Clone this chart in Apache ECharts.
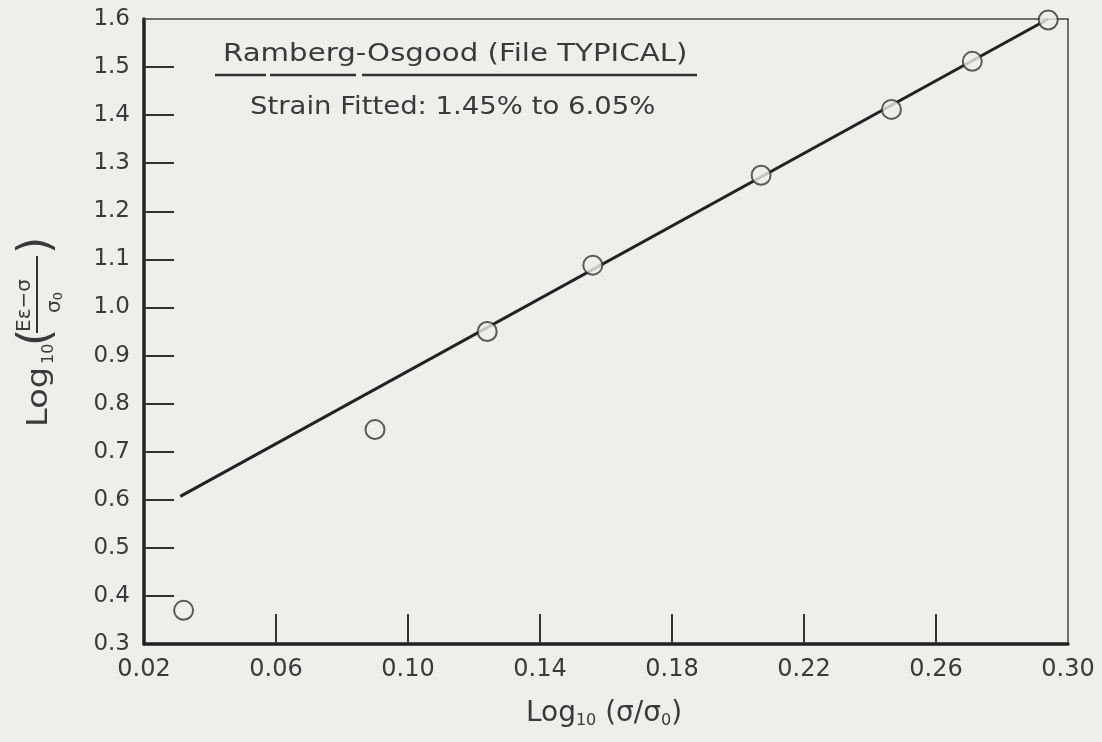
<!DOCTYPE html>
<html>
<head>
<meta charset="utf-8">
<title>Ramberg-Osgood fit</title>
<script src="https://cdn.jsdelivr.net/npm/echarts@6/dist/echarts.min.js"></script>
<style>
  html, body { margin: 0; padding: 0; background: #eeeeeb; }
  #chart { width: 1102px; height: 742px; }
</style>
</head>
<body>
<div id="chart"></div>
<script>
// measured points, log10(sigma/sigma0) vs log10((E eps - sigma)/sigma0)
const xPoints = [0.032, 0.090, 0.124, 0.156, 0.207, 0.2465, 0.271, 0.294];
const yPoints = [0.37, 0.746, 0.95, 1.088, 1.275, 1.412, 1.512, 1.598];

// fitted straight line end points
const fitX = [0.031, 0.294];
const fitY = [0.607, 1.60];

const xTicks = { min: 0.02, max: 0.30, step: 0.04 };
const yTicks = { min: 0.3, max: 1.6, step: 0.1 };
// inner tick marks (none drawn on the frame corners)
const xTickMarks = [0.06, 0.10, 0.14, 0.18, 0.22, 0.26];
const yTickMarks = [0.4, 0.5, 0.6, 0.7, 0.8, 0.9, 1.0, 1.1, 1.2, 1.3, 1.4, 1.5];

const ink = '#3a3a3a';
const font = 'DejaVu Sans';
const bg = '#eeeeeb';

const pts = xPoints.map((x, i) => [x, yPoints[i]]);
const fit = fitX.map((x, i) => [x, fitY[i]]);

const chart = echarts.init(document.getElementById('chart'));

const txt = (size) => ({ fill: ink, font: size + 'px "DejaVu Sans"', verticalAlign: 'middle', align: 'left' });

const option = {
    backgroundColor: bg,
    animation: false,
    grid: { left: 144, right: 34, top: 19, bottom: 98 },
    xAxis: [
        {
            type: 'value',
            min: xTicks.min,
            max: xTicks.max,
            interval: xTicks.step,
            splitLine: { show: false },
            axisLine: { lineStyle: { color: '#222', width: 3.5 } },
            axisTick: { inside: true, length: 30, customValues: xTickMarks, lineStyle: { color: '#333', width: 2 } },
            axisLabel: {
                margin: 14,
                color: ink,
                fontFamily: font,
                fontSize: 24,
                formatter: v => v.toFixed(2)
            }
        },
        {
            type: 'value',
            position: 'top',
            min: xTicks.min,
            max: xTicks.max,
            splitLine: { show: false },
            axisLine: { lineStyle: { color: '#444', width: 1.5 } },
            axisTick: { show: false },
            axisLabel: { show: false }
        }
    ],
    yAxis: [
        {
            type: 'value',
            min: yTicks.min,
            max: yTicks.max,
            interval: yTicks.step,
            splitLine: { show: false },
            axisLine: { lineStyle: { color: '#222', width: 3.5 } },
            axisTick: { inside: true, length: 30, customValues: yTickMarks, lineStyle: { color: '#333', width: 2 } },
            axisLabel: {
                margin: 14,
                color: ink,
                fontFamily: font,
                fontSize: 23,
                formatter: v => v.toFixed(1)
            }
        },
        {
            type: 'value',
            position: 'right',
            min: yTicks.min,
            max: yTicks.max,
            splitLine: { show: false },
            axisLine: { lineStyle: { color: '#444', width: 1.5 } },
            axisTick: { show: false },
            axisLabel: { show: false }
        }
    ],
    graphic: [
        {
            type: 'text',
            x: 223,
            y: 54,
            scaleX: 1.17,
            style: Object.assign({ text: 'Ramberg-Osgood (File TYPICAL)' }, txt(25))
        },
        { type: 'line', shape: { x1: 215, y1: 75, x2: 266, y2: 75 }, style: { stroke: '#333', lineWidth: 2.5 } },
        { type: 'line', shape: { x1: 270, y1: 75, x2: 356, y2: 75 }, style: { stroke: '#333', lineWidth: 2.5 } },
        { type: 'line', shape: { x1: 362, y1: 75, x2: 697, y2: 75 }, style: { stroke: '#333', lineWidth: 2.5 } },
        {
            type: 'text',
            x: 250,
            y: 107,
            scaleX: 1.1,
            style: Object.assign({ text: 'Strain Fitted: 1.45% to 6.05%' }, txt(25))
        },
        {
            // x axis name
            type: 'text',
            x: 604,
            y: 714,
            style: {
                text: 'Log{s|10} (σ/σ{s|0})',
                fill: ink,
                font: '28px "DejaVu Sans"',
                align: 'center',
                verticalAlign: 'middle',
                rich: {
                    s: { fontSize: 16, fontFamily: font, fill: ink, verticalAlign: 'bottom', padding: [14, 0, 0, 0] }
                }
            }
        },
        {
            // y axis name, rotated to read bottom-to-top
            type: 'group',
            x: 40,
            y: 430,
            rotation: Math.PI / 2,
            children: [
                { type: 'text', x: 3, y: 0, scaleX: 1.2, style: Object.assign({ text: 'Log' }, txt(28)) },
                { type: 'text', x: 66, y: 9, style: Object.assign({ text: '10' }, txt(16)) },
                { type: 'text', x: 84, y: -2, style: Object.assign({ text: '(' }, txt(44)) },
                { type: 'text', x: 98, y: -15, style: Object.assign({ text: 'Eε−σ' }, txt(20)) },
                { type: 'line', shape: { x1: 97, y1: -3, x2: 174, y2: -3 }, style: { stroke: '#333', lineWidth: 2 } },
                {
                    type: 'text', x: 117, y: 15,
                    style: Object.assign({
                        text: 'σ{s|0}',
                        rich: { s: { fontSize: 13, fontFamily: font, fill: ink, verticalAlign: 'bottom', padding: [8, 0, 0, 0] } }
                    }, txt(20))
                },
                { type: 'text', x: 176, y: -2, style: Object.assign({ text: ')' }, txt(44)) }
            ]
        }
    ],
    series: [
        {
            type: 'line',
            data: fit,
            symbol: 'none',
            lineStyle: { color: '#222', width: 3 },
            z: 2
        },
        {
            type: 'scatter',
            data: pts,
            symbol: 'circle',
            symbolSize: 19,
            itemStyle: { color: bg, borderColor: '#333', borderWidth: 2 },
            z: 3
        }
    ]
};

chart.setOption(option);
</script>
</body>
</html>
